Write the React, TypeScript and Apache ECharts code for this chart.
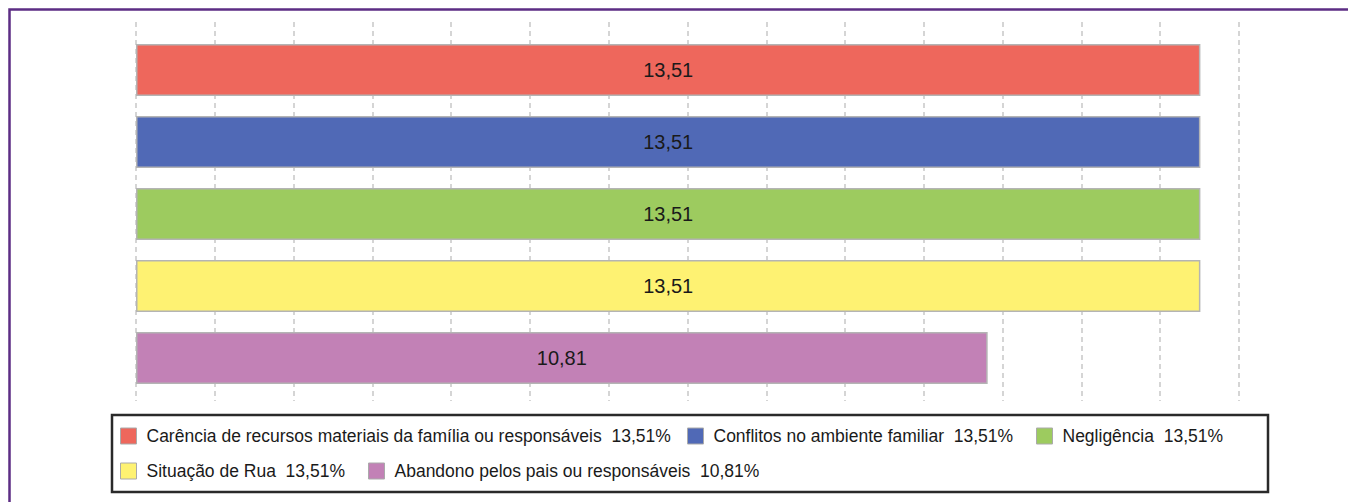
import React, { useEffect, useRef } from "react";
import * as echarts from "echarts";

const categories = [
  "Carência de recursos materiais da família ou responsáveis",
  "Conflitos no ambiente familiar",
  "Negligência",
  "Situação de Rua",
  "Abandono pelos pais ou responsáveis",
];
const values = [13.51, 13.51, 13.51, 13.51, 10.81];
const colors = ["#ee675c", "#5069b6", "#9dcb5f", "#fef272", "#c281b6"];
const axisMax = 14;

const fmt = (v: number) => v.toFixed(2).replace(".", ",");

// legend item positions (left, top)
const legendPos = [
  [120, 427],
  [687, 427],
  [1036, 427],
  [120, 462],
  [368, 462],
];

export default function App() {
  const ref = useRef<HTMLDivElement>(null);
  useEffect(() => {
    const chart = echarts.init(ref.current!, null, { renderer: "svg" });
    const series = categories.map((name, i) => ({
      name,
      type: "bar",
      xAxisIndex: 0,
      yAxisIndex: 0,
      barWidth: 52,
      barGap: "-100%",
      data: categories.map((_, j) => (j === i ? values[i] : "-")),
      itemStyle: { color: colors[i], borderColor: "#b4b4b4", borderWidth: 1.5 },
      label: {
        show: true,
        position: "inside",
        formatter: (p: any) => fmt(p.value),
        fontFamily: "Liberation Sans, Arial, sans-serif",
        fontSize: 20,
        color: "#1a1a1a",
      },
    }));
    const legends = categories.map((name, i) => ({
      show: true,
      left: legendPos[i][0],
      top: legendPos[i][1],
      padding: 0,
      data: [name],
      selectedMode: false,
      itemWidth: 16,
      itemHeight: 16,
      icon: "rect",
      itemStyle: { borderColor: "#aaa", borderWidth: 1 },
      formatter: (n: string) => n + "  " + fmt(values[categories.indexOf(n)]) + "%",
      textStyle: {
        fontFamily: "Liberation Sans, Arial, sans-serif",
        fontSize: 17.5,
        color: "#1a1a1a",
        padding: [0, 0, 0, 5],
      },
    }));
    chart.setOption({
      animation: false,
      backgroundColor: "#fff",
      grid: [
        { left: 136, right: 109, top: 34, height: 360 },
        { left: 136, right: 109, top: 22, height: 379 },
      ],
      xAxis: [
        {
          type: "value",
          gridIndex: 0,
          min: 0,
          max: axisMax,
          interval: 1,
          axisLabel: { show: false },
          axisLine: { show: false },
          axisTick: { show: false },
          splitLine: { show: false },
        },
        {
          type: "value",
          gridIndex: 1,
          min: 0,
          max: axisMax,
          interval: 1,
          axisLabel: { show: false },
          axisLine: { show: false },
          axisTick: { show: false },
          splitLine: {
            show: true,
            lineStyle: { color: "#c8c8c8", width: 1.5, type: [5, 4] },
          },
        },
      ],
      yAxis: [
        {
          type: "category",
          gridIndex: 0,
          data: categories,
          inverse: true,
          axisLabel: { show: false },
          axisLine: { show: false },
          axisTick: { show: false },
        },
        {
          type: "value",
          gridIndex: 1,
          min: 0,
          max: 1,
          show: false,
          splitLine: { show: false },
        },
      ],
      legend: legends,
      series,
      graphic: [
        {
          type: "polyline",
          shape: { points: [[9.5, 502], [9.5, 9.5], [1348, 9.5]] },
          style: { stroke: "#5c2d84", lineWidth: 2.5, fill: null },
          z: 10,
        },
        {
          type: "rect",
          shape: { x: 112, y: 415, width: 1156, height: 77 },
          style: { stroke: "#2a2a2a", lineWidth: 2.5, fill: null },
          z: 10,
        },
      ],
    });
    return () => chart.dispose();
  }, []);
  return (
    <div
      ref={ref}
      style={{ position: "fixed", left: 0, top: 0, width: 1348, height: 502 }}
    />
  );
}
